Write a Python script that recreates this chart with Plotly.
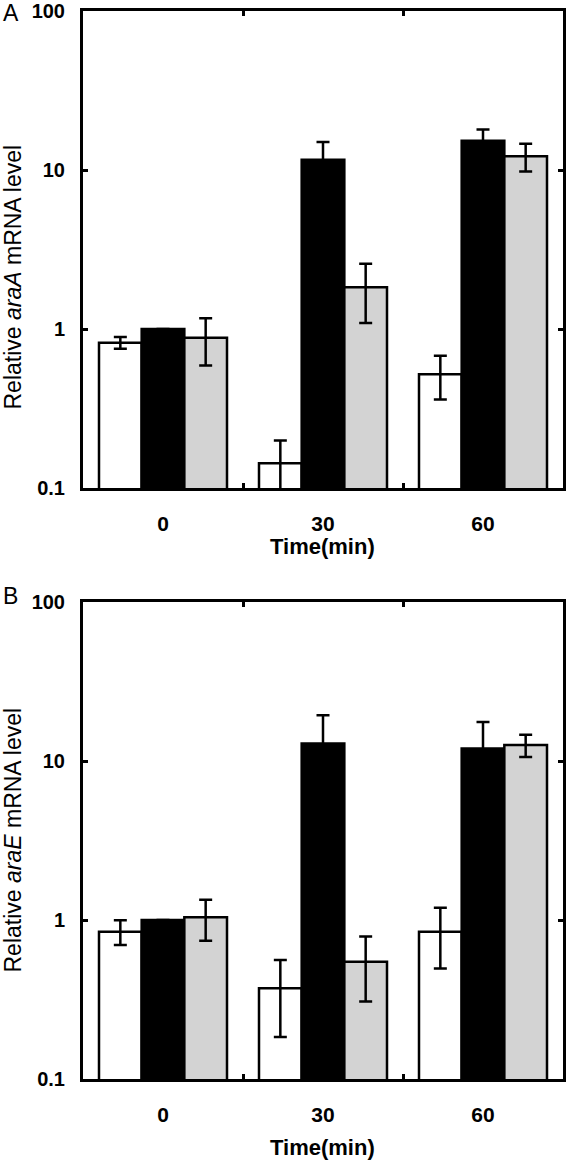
import plotly.graph_objects as go

# ---- data ----
times = ["0", "30", "60"]

# Panel A: araA
a_white = [0.82, 0.143, 0.52]
a_white_err = [0.07, 0.056, 0.16]
a_black = [1.0, 11.6, 15.3]
a_black_err = [0.0, 3.4, 2.7]
a_gray = [0.88, 1.83, 12.2]
a_gray_err = [0.29, 0.74, 2.4]

# Panel B: araE
b_white = [0.845, 0.372, 0.845]
b_white_err = [0.15, 0.188, 0.35]
b_black = [1.0, 12.9, 12.0]
b_black_err = [0.0, 6.5, 5.6]
b_gray = [1.04, 0.547, 12.6]
b_gray_err = [0.30, 0.24, 2.0]

y_tickvals = [0.1, 1, 10, 100]
y_ticktext = ["0.1", "1", "10", "100"]

fills = ["#ffffff", "#000000", "#d3d3d3"]
names = ["Series 1", "Series 2", "Series 3"]

W, H = 566, 1161
FONT = "Liberation Sans, Arial, Helvetica, sans-serif"

fig = go.Figure()

panels = [
    ("x", "y", [a_white, a_black, a_gray], [a_white_err, a_black_err, a_gray_err]),
    ("x2", "y2", [b_white, b_black, b_gray], [b_white_err, b_black_err, b_gray_err]),
]
for xa, ya, vals, errs in panels:
    for i in range(3):
        fig.add_trace(go.Bar(
            x=times, y=vals[i], name=names[i], showlegend=False,
            xaxis=xa, yaxis=ya,
            marker=dict(color=fills[i], line=dict(color="black", width=2.5)),
            error_y=dict(type="data", array=errs[i], visible=True,
                         color="black", thickness=2.5, width=6.5),
        ))

# pixel geometry -> paper fractions
x0, x1 = 83, 563
panel_px = [(11, 488), (602, 1079)]


def ydom(top, bot):
    return [1 - bot / H, 1 - top / H]


axis_common_x = dict(
    type="category", range=[-0.5, 2.5], tickson="boundaries",
    ticks="inside", ticklen=5, tickwidth=2.5, tickcolor="black",
    showline=True, linecolor="black", linewidth=3, mirror="ticks",
    showgrid=False, zeroline=False, automargin=False,
    ticklabelstandoff=15,
    tickfont=dict(family=FONT, size=21, color="black", weight="bold"),
    domain=[x0 / W, x1 / W],
)
axis_common_y = dict(
    type="log", range=[-1, 2], tickvals=y_tickvals, ticktext=y_ticktext,
    ticks="inside", ticklen=5, tickwidth=2.5, tickcolor="black",
    showline=True, linecolor="black", linewidth=3, mirror="ticks",
    showgrid=False, zeroline=False, automargin=False,
    ticklabelstandoff=11,
    tickfont=dict(family=FONT, size=20, color="black", weight="bold"),
)

fig.update_layout(
    width=W, height=H,
    margin=dict(l=0, r=0, t=0, b=0, autoexpand=False),
    paper_bgcolor="white", plot_bgcolor="white",
    barmode="group", bargap=0.2, bargroupgap=0,
    font=dict(family=FONT, color="black"),
    xaxis=dict(axis_common_x, anchor="y"),
    yaxis=dict(axis_common_y, anchor="x", domain=ydom(*panel_px[0])),
    xaxis2=dict(axis_common_x, anchor="y2"),
    yaxis2=dict(axis_common_y, anchor="x2", domain=ydom(*panel_px[1])),
)

annotations = []
# panel letters
for letter, yc in [("A", 13), ("B", 596)]:
    annotations.append(dict(
        text=letter, x=1 / W, y=1 - yc / H, xref="paper", yref="paper",
        xanchor="left", yanchor="middle", showarrow=False,
        font=dict(family=FONT, size=23, color="black")))
# x titles
for yc in [546, 1147]:
    annotations.append(dict(
        text="<b>Time(min)</b>", x=(x0 + x1) / 2 / W, y=1 - yc / H,
        xref="paper", yref="paper", xanchor="center", yanchor="middle",
        showarrow=False, font=dict(family=FONT, size=22, color="black")))
# y titles
for gene, (top, bot), dy in zip(["araA", "araE"], panel_px, [28, 0]):
    annotations.append(dict(
        text=f"Relative <i>{gene}</i> mRNA level", x=12 / W,
        y=1 - ((top + bot) / 2 + dy) / H, xref="paper", yref="paper",
        xanchor="center", yanchor="middle", textangle=-90, showarrow=False,
        font=dict(family=FONT, size=23, color="black")))
fig.update_layout(annotations=annotations)

fig.write_html(
    "out.html",
    config={"displayModeBar": False},
    post_script="document.body.style.margin='0';document.body.style.padding='0';",
)
